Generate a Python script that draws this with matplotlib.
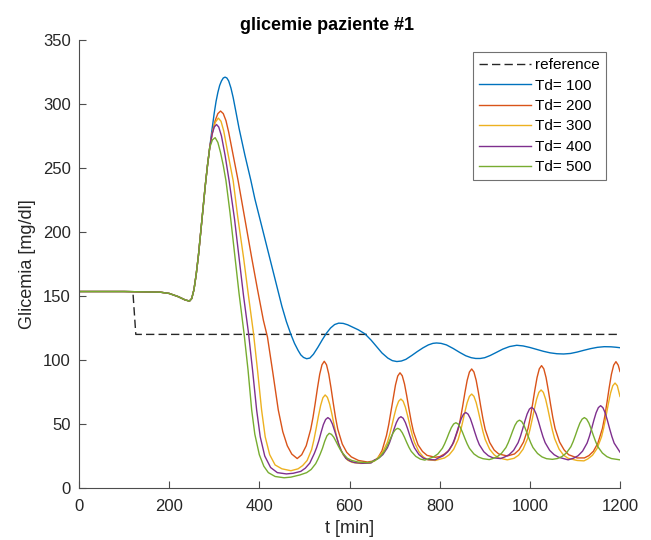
import matplotlib.pyplot as plt

plt.rcParams["font.family"] = ["Liberation Sans", "DejaVu Sans"]

# reference (setpoint), starts where it leaves the initial level
ref_t = [120, 126, 1200]
ref_y = [151, 120, 120]

# common start of all responses
start_t = [0, 100, 180, 200, 220, 235, 245, 250, 255, 260, 265, 270, 275, 280, 285, 290]
start_y = [153.5, 153.5, 153, 152, 149.5, 147, 146, 148, 155, 167, 182, 200, 218, 236, 252, 266]

td100_t = [295, 300, 304, 308, 312, 316, 320, 324, 328, 332, 337, 342, 348, 355, 368, 381,
           390, 400, 410, 420, 430, 440, 450, 460, 470, 478, 486, 492, 498, 505, 512, 520,
           530, 540, 549, 558, 567, 576, 586, 596, 605, 620, 634, 648, 660, 672, 685, 695,
           705, 715, 725, 738, 750, 763, 775, 785, 793, 803, 815, 830, 845, 858, 870, 880,
           890, 900, 912, 925, 940, 955, 971, 985, 1000, 1015, 1030, 1045, 1060, 1075,
           1090, 1105, 1120, 1135, 1150, 1165, 1180, 1190, 1200]
td100_y = [280, 293, 302, 309, 314.5, 318, 320.3, 321, 320.3, 318, 312.5, 305, 294, 281, 260, 240.6,
           226, 212, 198, 184, 170, 156, 142, 130, 120, 113, 107.5, 104, 102, 101, 101.5, 104.5,
           110, 116, 121, 125, 127.7, 128.8, 128.6, 127.5, 126, 123.5, 120.5, 115.5, 110.5, 105.5, 101.5, 99.5,
           98.8, 99.2, 100.5, 103.5, 106.5, 109.5, 111.8, 113, 113.3, 113, 111.8, 109, 105.8, 103.3, 101.8, 101.2,
           101.2, 101.8, 103.5, 105.8, 108.5, 110.5, 111.5, 111, 109.8, 108.3, 106.8, 105.6, 104.9, 104.7,
           105.1, 106.2, 107.6, 108.9, 109.9, 110.4, 110.3, 110, 109.6]

td200_t = [296, 302, 308, 314, 320, 326, 332, 342, 353, 368, 383, 396, 409, 418, 430, 442,
           452, 462, 472, 484, 494, 504, 514, 519, 524, 529, 534, 539, 544, 549, 554, 559,
           564, 569, 574, 584, 594, 604, 620, 640, 652, 662, 672, 682, 687, 692, 697, 702,
           707, 712, 717, 722, 727, 732, 737, 742, 752, 762, 772, 790, 800, 811, 821, 831,
           841, 846, 851, 856, 861, 866, 871, 876, 881, 886, 891, 896, 901, 911, 921, 931,
           950, 966, 976, 986, 996, 1001, 1006, 1011, 1016, 1021, 1026, 1031, 1036, 1041,
           1046, 1051, 1056, 1066, 1076, 1086, 1105, 1121, 1131, 1141, 1151, 1161, 1166,
           1171, 1176, 1181, 1186, 1191, 1196, 1200]
td200_y = [278, 287, 292.5, 294.5, 292.5, 287, 278, 260, 240, 210, 180, 155, 131, 118, 90, 61,
           44, 33, 26.5, 23, 26, 33, 45.9, 55.1, 66.3, 78.2, 89, 96.3, 99, 96.3, 89, 78.2,
           66.3, 55.1, 45.9, 34.3, 27.8, 24.3, 21.5, 20.3, 21, 23, 29, 41, 49.5, 60, 71, 80.5,
           87.5, 90, 87.7, 81.3, 71.9, 61.5, 51.8, 43.8, 33.7, 28.5, 25.5, 24, 24.5, 26.6, 29.6, 35.5,
           45.7, 54, 63.9, 74.5, 84.1, 90.6, 93, 90.6, 84.1, 74.5, 63.9, 54, 45.7, 35.5, 29.6, 26.6,
           25, 26.6, 29.8, 35.9, 46.5, 55, 65.3, 76.3, 86.3, 93.1, 95.6, 93.1, 86.3, 76.3,
           65.3, 55, 46.5, 35.9, 29.8, 26, 23.5, 23.5, 25.3, 28.7, 35.1, 46.5, 55.6,
           66.5, 78.3, 88.9, 96, 98.7, 96, 91]

td300_t = [296, 302, 309, 315, 321, 330, 342, 352, 365, 376, 387, 396, 405, 413, 423, 435,
           450, 470, 486, 496, 506, 516, 521, 526, 531, 536, 541, 546, 551, 556, 561, 566,
           571, 576, 586, 596, 606, 625, 645, 655, 664, 674, 684, 689, 694, 699, 704, 709,
           714, 719, 724, 729, 734, 739, 744, 754, 764, 774, 790, 811, 821, 831, 841, 846,
           851, 856, 861, 866, 871, 876, 881, 886, 891, 896, 901, 911, 921, 931, 950, 965,
           975, 985, 995, 1000, 1005, 1010, 1015, 1020, 1025, 1030, 1035, 1040, 1045, 1050,
           1055, 1065, 1075, 1085, 1105, 1120, 1129, 1139, 1149, 1159, 1164, 1169, 1174,
           1179, 1184, 1189, 1194, 1200]
td300_y = [278, 285.5, 289, 286.5, 279, 262, 240, 212, 180, 150, 121, 92, 61, 40, 26, 18,
           15, 13.5, 15, 17.5, 21.5, 30, 37.5, 46.5, 56, 64.5, 70.5, 72.7, 70.8, 65.5, 57.7, 49,
           41, 34.3, 25.9, 21.7, 20, 19.2, 19.5, 21, 24.2, 28.3, 35.7, 41.6, 48.7, 56.3, 63.1, 67.8,
           69.5, 67.8, 63.1, 56.3, 48.7, 41.6, 35.7, 28.3, 24.2, 22, 21.5, 23.5, 25.9, 30.2, 37.9, 44.1,
           51.6, 59.5, 66.7, 71.6, 73.4, 71.6, 66.7, 59.5, 51.6, 44.1, 37.9, 30.2, 25.9, 23.5, 22, 23.2,
           25.6, 30.3, 38.6, 45.2, 53.2, 61.7, 69.4, 74.7, 76.6, 74.7, 69.4, 61.7, 53.2, 45.2,
           38.6, 30.3, 25.6, 23.2, 21.5, 21.2, 22.8, 25.6, 30.8, 39.9, 47.2, 56.1, 65.5,
           74.1, 79.9, 82, 79.9, 71.5]

td400_t = [295, 300, 305, 310, 316, 324, 333, 345, 355, 365, 376, 385, 394, 402, 412, 425,
           440, 460, 475, 492, 502, 512, 522, 527, 532, 537, 542, 547, 552, 557, 562, 567,
           572, 577, 582, 592, 602, 612, 630, 648, 654, 664, 674, 684, 689, 694, 699, 704,
           709, 714, 719, 724, 729, 734, 739, 744, 754, 764, 774, 790, 798, 808, 818, 828,
           833, 838, 843, 848, 853, 858, 863, 868, 873, 878, 883, 888, 898, 908, 918, 935,
           944, 954, 964, 974, 979, 984, 989, 994, 999, 1004, 1009, 1014, 1019, 1024,
           1029, 1034, 1044, 1054, 1064, 1085, 1097, 1107, 1117, 1127, 1132, 1137, 1142,
           1147, 1152, 1157, 1162, 1167, 1172, 1177, 1182, 1187, 1200]
td400_y = [276, 282, 284, 282, 275, 260, 240, 210, 180, 150, 121, 92, 61, 40, 25, 16,
           12, 11, 11.5, 13, 15.5, 19.5, 27, 31.5, 37, 43.5, 49.5, 53.5, 55, 53.7, 50.1, 44.7,
           38.9, 33.3, 28.8, 23.1, 20.9, 19.8, 19.3, 19.6, 21.6, 23.1, 26.1, 31.4, 35.6, 40.7, 46.2, 51.1,
           54.5, 55.7, 54.5, 51.1, 46.2, 40.7, 35.6, 31.4, 26.1, 23.3, 22.2, 22, 23.6, 25.2, 28.3, 33.8,
           38.2, 43.5, 49.1, 54.3, 57.7, 59, 57.7, 54.3, 49.1, 43.5, 38.2, 33.8, 28.3, 25.2, 23.6, 23,
           24.2, 26, 29.4, 35.4, 40.2, 46, 52.2, 57.8, 61.6, 63, 61.6, 57.8, 52.2, 46,
           40.2, 35.4, 29.4, 26, 24, 22, 23.3, 25.2, 28.8, 35.1, 40.2, 46.3, 52.9,
           58.8, 62.8, 64.3, 62.8, 58.8, 52.9, 46.3, 40.2, 35.1, 28]

td500_t = [296, 302, 308, 314, 320, 326, 335, 346, 355, 366, 375, 383, 390, 400, 410, 420,
           435, 455, 470, 490, 505, 515, 525, 530, 535, 540, 545, 550, 555, 560, 565, 570,
           575, 580, 585, 595, 605, 620, 640, 647, 657, 667, 677, 682, 687, 692, 697, 702,
           707, 712, 717, 722, 727, 732, 737, 747, 757, 767, 776, 786, 796, 806, 811, 816,
           821, 826, 831, 836, 841, 846, 851, 856, 861, 866, 876, 886, 896, 910, 917, 927,
           937, 947, 952, 957, 962, 967, 972, 977, 982, 987, 992, 997, 1002, 1007, 1017,
           1027, 1037, 1050, 1061, 1071, 1081, 1091, 1096, 1101, 1106, 1111, 1116, 1121,
           1126, 1131, 1136, 1141, 1146, 1151, 1161, 1171, 1181, 1200]
td500_y = [272, 273.7, 270, 262, 252, 240, 215, 180, 152, 121, 92, 61, 42, 26, 17, 12,
           9, 8, 8.5, 10.2, 12, 14.5, 19, 22.5, 26.5, 31, 36.5, 40.8, 42.7, 41.9, 39.7, 36.4,
           32.9, 29.7, 27.2, 23.3, 21.5, 20.2, 19.8, 20.2, 21.5, 24, 28.6, 31.7, 35.5, 39.6, 43.2, 45.7,
           46.6, 45.7, 43.2, 39.6, 35.5, 31.7, 28.6, 24.7, 22.6, 21.8, 22.9, 24.2, 26.6, 31, 34.5, 38.7,
           43.2, 47.2, 50, 51, 50, 47.2, 43.2, 38.7, 34.5, 31, 26.6, 24.2, 22.9, 22.2, 22.9, 24.3,
           27, 31.6, 35.3, 39.8, 44.6, 49, 51.9, 53, 51.9, 49, 44.6, 39.8, 35.3, 31.6, 27,
           24.3, 22.9, 22.4, 23, 24.5, 27.3, 32.2, 36.2, 41, 46.1, 50.7, 53.8, 55,
           53.8, 50.7, 46.1, 41, 36.2, 32.2, 27.3, 24.5, 23, 22]

labels = ["Td= 100", "Td= 200", "Td= 300", "Td= 400", "Td= 500"]
colors = ["#0072BD", "#D95319", "#EDB120", "#7E2F8E", "#77AC30"]
series = [(td100_t, td100_y), (td200_t, td200_y), (td300_t, td300_y),
          (td400_t, td400_y), (td500_t, td500_y)]

fig = plt.figure(figsize=(6.51, 5.40), dpi=100)
ax = fig.add_axes([79 / 651, 52 / 540, 541 / 651, 448 / 540])

ax.plot(ref_t, ref_y, color="#262626", linestyle=(0, (6, 3)), linewidth=1.0, label="reference")
for (t, y), lab, c in zip(series, labels, colors):
    ax.plot(start_t + t, start_y + y, color=c, linewidth=1.0, label=lab)

ax.set_xlim(0, 1200)
ax.set_ylim(0, 350)
ax.set_xticks(range(0, 1201, 200))
ax.set_yticks(range(0, 351, 50))
for side in ("top", "right"):
    ax.spines[side].set_visible(False)
for side in ("left", "bottom"):
    ax.spines[side].set_color("#4d4d4d")
    ax.spines[side].set_linewidth(0.8)
ax.tick_params(direction="in", length=5, width=0.8, colors="#4d4d4d",
               labelcolor="#262626", labelsize=12)
ax.tick_params(axis="x", pad=8)
ax.tick_params(axis="y", pad=6)

ax.set_xlabel("t [min]", fontsize=13, color="#262626", labelpad=4)
ax.set_ylabel("Glicemia [mg/dl]", fontsize=13, color="#262626", labelpad=5)
ax.set_title("glicemie paziente #1", fontsize=13, fontweight="bold", pad=7, x=0.458)

leg = ax.legend(loc="upper right", bbox_to_anchor=(0.974, 0.973), fontsize=11,
                frameon=True, fancybox=False, handlelength=3.4, handletextpad=0.25,
                borderpad=0.4, labelspacing=0.42, borderaxespad=0.0)
leg.get_frame().set_edgecolor("#4d4d4d")
leg.get_frame().set_linewidth(0.8)

fig.savefig("out.png", dpi=100)
